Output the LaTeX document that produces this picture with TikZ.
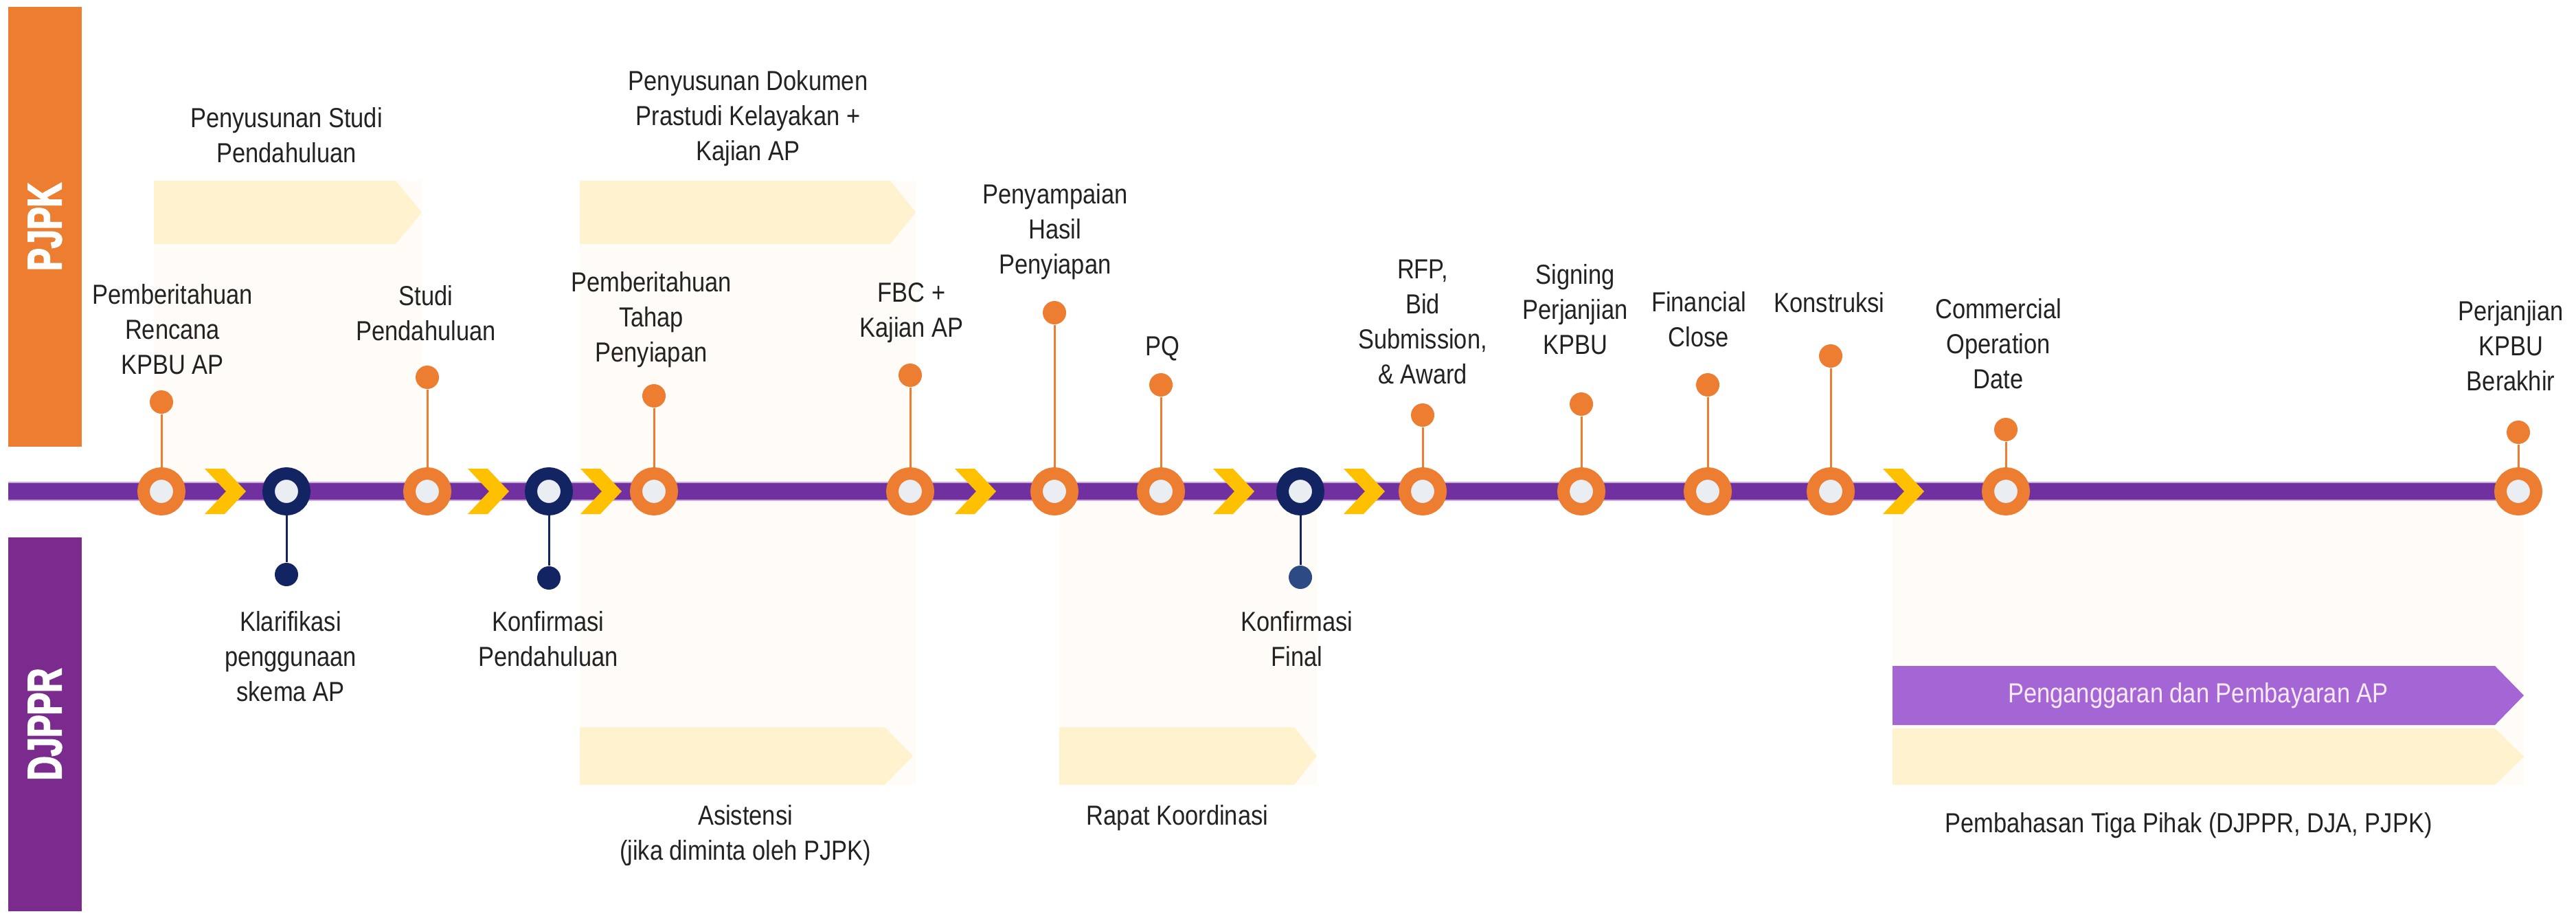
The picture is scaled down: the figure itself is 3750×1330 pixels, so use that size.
\documentclass[tikz,border=0pt]{standalone}
\usepackage{fontspec}
\setmainfont[FakeStretch=0.86]{Liberation Sans}
\newfontfamily\barfont[FakeStretch=0.7, FakeBold=2.5]{Liberation Sans Bold}
\definecolor{ppporange}{HTML}{ED7D31}
\definecolor{navy}{HTML}{132463}
\definecolor{navysoft}{HTML}{2E4A84}
\definecolor{trackpurple}{HTML}{7030A0}
\definecolor{trackedge}{HTML}{C9A6E0}
\definecolor{barpurple}{HTML}{7B2A8E}
\definecolor{chevyellow}{HTML}{FFC000}
\definecolor{cream}{HTML}{FFF2CF}
\definecolor{faint}{HTML}{FFFCF8}
\definecolor{ringfill}{HTML}{EAEEF3}
\definecolor{paypurple}{HTML}{A366D4}
\definecolor{paytext}{HTML}{FBEAFB}
\definecolor{txt}{HTML}{222222}

\begin{document}
\begin{tikzpicture}[x=0.1mm, y=-0.1mm,
        milestone/.style={circle, draw=ppporange, line width=1.8mm, fill=ringfill, minimum size=5.2mm, inner sep=0pt},
        navymile/.style={milestone, draw=navy},
        bead/.style={circle, fill=ppporange, minimum size=3.4mm, inner sep=0pt},
        navybead/.style={bead, fill=navy},
        stem/.style={draw=ppporange, line width=0.3mm},
        navystem/.style={stem, draw=navy},
        lbl/.style={align=center, text=txt, font=\fontsize{11.4}{14.5}\selectfont, inner sep=0pt},
        sidebar/.style={rotate=90, text=white, font=\barfont\fontsize{19.9}{20}\selectfont, minimum height=10.7mm, inner sep=0pt},
        banner/.style={fill=cream},
        glow/.style={fill=faint},
        track/.style={draw=trackpurple, line width=2.4mm, preaction={draw=trackedge, line width=2.8mm}},
        chev/.pic={\fill[chevyellow] (-30,-33) -- (-1,-33) -- (30,0) -- (-1,33) -- (-30,33) -- (1,0) -- cycle;}
    ]
        \useasboundingbox (0,0) rectangle (3750,1330);

        % pale panels behind the phases
        \fill[glow] (224,263) rectangle (614,713);
        \fill[glow] (844,263) rectangle (1333,1142);
        \fill[glow] (1542,713) rectangle (1917,1142);
        \fill[glow] (2755,713) rectangle (3674,1142);

        % phase banners
        \fill[banner] (224,263) -- (576,263) -- (614,309) -- (576,355) -- (224,355) -- cycle;
        \fill[banner] (844,263) -- (1296,263) -- (1333,309) -- (1296,355) -- (844,355) -- cycle;
        \fill[banner] (844,1058) -- (1288,1058) -- (1329,1100) -- (1288,1142) -- (844,1142) -- cycle;
        \fill[banner] (1542,1058) -- (1884,1058) -- (1917,1100) -- (1884,1142) -- (1542,1142) -- cycle;
        \fill[banner] (2755,1060) -- (3632,1060) -- (3674,1101) -- (3632,1142) -- (2755,1142) -- cycle;
        \fill[paypurple] (2755,969) -- (3632,969) -- (3674,1012) -- (3632,1055) -- (2755,1055) -- cycle;

        % side bars
        \node (pjpk) [sidebar, fill=ppporange, minimum width=64mm] at (65.5,330) {PJPK};
        \node (djppr) [sidebar, fill=barpurple, minimum width=54.4mm] at (65.5,1054) {DJPPR};

        % timeline
        \coordinate (trackL) at (12,715);
        \coordinate (trackR) at (3666,715);
        \draw[track] (trackL) -- (trackR);

        \pic at (328,715) {chev};
        \pic at (711,715) {chev};
        \pic at (875,715) {chev};
        \pic at (1420,715) {chev};
        \pic at (1796,715) {chev};
        \pic at (1986,715) {chev};
        \pic at (2771,715) {chev};

        % milestones on the line
        \node (m1) [milestone] at (235,715) {};
        \node (m2) [navymile] at (417,715) {};
        \node (m3) [milestone] at (622,715) {};
        \node (m4) [navymile] at (799,715) {};
        \node (m5) [milestone] at (952,715) {};
        \node (m6) [milestone] at (1325,715) {};
        \node (m7) [milestone] at (1535,715) {};
        \node (m8) [milestone] at (1690,715) {};
        \node (m9) [navymile] at (1893,715) {};
        \node (m10) [milestone] at (2071,715) {};
        \node (m11) [milestone] at (2302,715) {};
        \node (m12) [milestone] at (2486,715) {};
        \node (m13) [milestone] at (2665,715) {};
        \node (m14) [milestone] at (2920,715) {};
        \node (m15) [milestone] at (3666,715) {};

        % beads and stems
        \node (k1) [bead] at (235,585) {};
        \node (k2) [navybead] at (417,836) {};
        \node (k3) [bead] at (622,549) {};
        \node (k4) [navybead] at (799,841) {};
        \node (k5) [bead] at (952,576) {};
        \node (k6) [bead] at (1325,546) {};
        \node (k7) [bead] at (1535,455) {};
        \node (k8) [bead] at (1690,560) {};
        \node (k9) [navybead, fill=navysoft] at (1893,840) {};
        \node (k10) [bead] at (2071,604) {};
        \node (k11) [bead] at (2302,588) {};
        \node (k12) [bead] at (2486,560) {};
        \node (k13) [bead] at (2665,518) {};
        \node (k14) [bead] at (2920,625) {};
        \node (k15) [bead] at (3666,629) {};
        \draw[stem] (k1) -- (m1);
        \draw[navystem] (k2) -- (m2);
        \draw[stem] (k3) -- (m3);
        \draw[navystem] (k4) -- (m4);
        \draw[stem] (k5) -- (m5);
        \draw[stem] (k6) -- (m6);
        \draw[stem] (k7) -- (m7);
        \draw[stem] (k8) -- (m8);
        \draw[navystem] (k9) -- (m9);
        \draw[stem] (k10) -- (m10);
        \draw[stem] (k11) -- (m11);
        \draw[stem] (k12) -- (m12);
        \draw[stem] (k13) -- (m13);
        \draw[stem] (k14) -- (m14);
        \draw[stem] (k15) -- (m15);

        % labels
        \node (t1) [lbl] at (251,479) {Pemberitahuan\\Rencana\\KPBU AP};
        \node (t3) [lbl] at (620,456) {Studi\\Pendahuluan};
        \node (t5) [lbl] at (948,465) {Pemberitahuan\\Tahap\\Penyiapan};
        \node (t6) [lbl] at (1327,455) {FBC +\\Kajian AP};
        \node (t7) [lbl] at (1536,337) {Penyampaian\\Hasil\\Penyiapan};
        \node (t8) [lbl] at (1692,507) {PQ};
        \node (t10) [lbl] at (2071,468) {RFP,\\Bid\\Submission,\\\& Award};
        \node (t11) [lbl] at (2293,450) {Signing\\Perjanjian\\KPBU};
        \node (t12) [lbl] at (2473,465) {Financial\\Close};
        \node (t13) [lbl] at (2663,440) {Konstruksi};
        \node (t14) [lbl] at (2909,500) {Commercial\\Operation\\Date};
        \node (t15) [lbl] at (3655,503) {Perjanjian\\KPBU\\Berakhir};
        \node (p1) [lbl] at (417,197) {Penyusunan Studi\\Pendahuluan};
        \node (p2) [lbl] at (1089,172) {Penyusunan Dokumen\\Prastudi Kelayakan +\\Kajian AP};
        \node (t2) [lbl] at (423,955) {Klarifikasi\\penggunaan\\skema AP};
        \node (t4) [lbl] at (798,930) {Konfirmasi\\Pendahuluan};
        \node (t9) [lbl] at (1888,930) {Konfirmasi\\Final};
        \node (q1) [lbl] at (1085,1216) {Asistensi\\(jika diminta oleh PJPK)};
        \node (q2) [lbl] at (1714,1190) {Rapat Koordinasi};
        \node (q3) [lbl] at (3186,1201) {Pembahasan Tiga Pihak (DJPPR, DJA, PJPK)};
        \node (pay) [lbl, text=paytext] at (3200,1012) {Penganggaran dan Pembayaran AP};
    \end{tikzpicture}
\end{document}
